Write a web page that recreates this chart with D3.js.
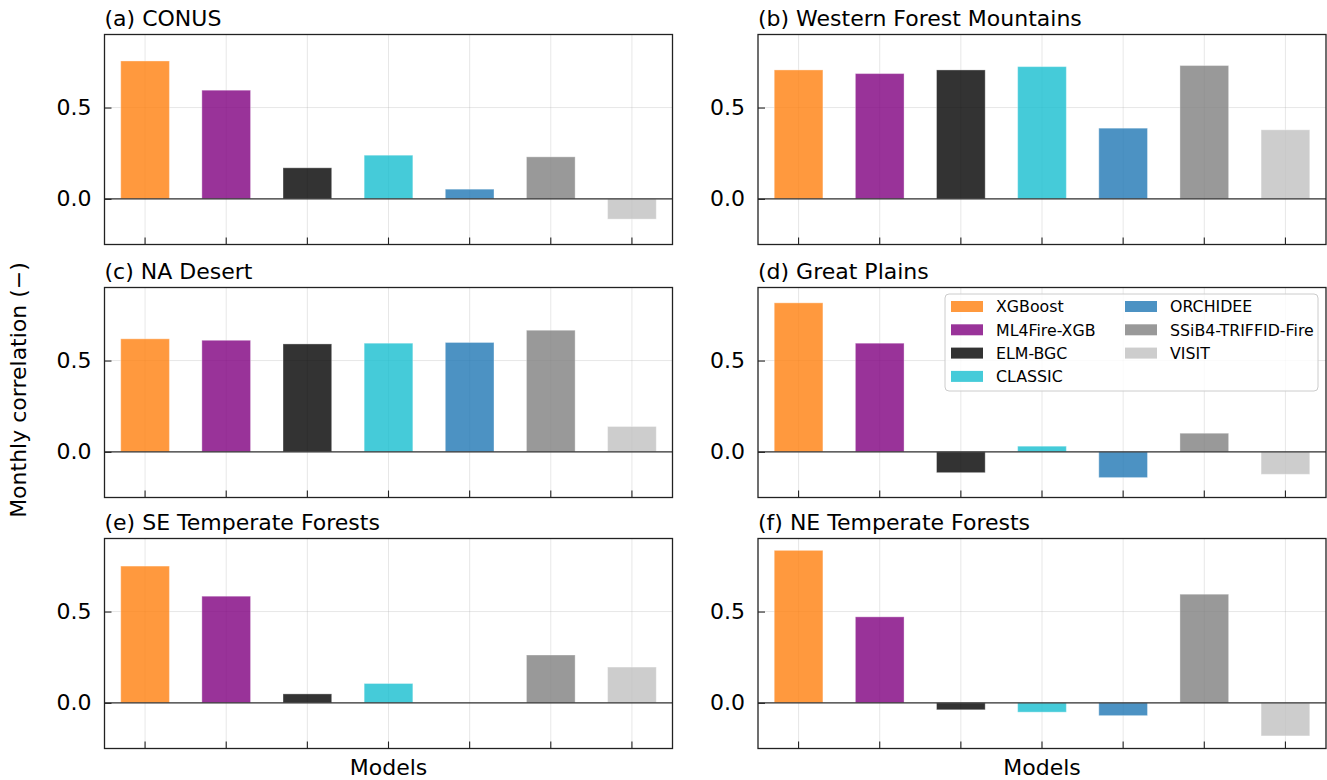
<!DOCTYPE html>
<html>
<head>
<meta charset="utf-8">
<script src="https://cdn.jsdelivr.net/npm/d3@7"></script>
<style>
    body { margin: 0; background: #fff; }
    text { font-family: "DejaVu Sans", sans-serif; fill: #000; }
</style>
</head>
<body>
<svg id="chart" width="1327" height="780"></svg>
<script>
var models = ["XGBoost", "ML4Fire-XGB", "ELM-BGC", "CLASSIC", "ORCHIDEE", "SSiB4-TRIFFID-Fire", "VISIT"];
var colors = ["#ff7f0e", "#800080", "#000000", "#17becf", "#1f77b4", "#808080", "#c0c0c0"];
var titles = ["(a) CONUS", "(b) Western Forest Mountains", "(c) NA Desert", "(d) Great Plains",
    "(e) SE Temperate Forests", "(f) NE Temperate Forests"];

// monthly correlation per region, same order as models
var conus = [0.755, 0.595, 0.17, 0.239, 0.053, 0.23, -0.111];
var western = [0.706, 0.686, 0.706, 0.724, 0.387, 0.73, 0.378];
var desert = [0.619, 0.611, 0.591, 0.595, 0.599, 0.666, 0.139];
var plains = [0.816, 0.595, -0.114, 0.031, -0.141, 0.102, -0.123];
var seForests = [0.749, 0.584, 0.049, 0.106, 0, 0.262, 0.196];
var neForests = [0.835, 0.471, -0.038, -0.051, -0.07, 0.595, -0.181];

var yTicks = [0.0, 0.5];
var yDomain = [-0.25, 0.9];

var regions = [conus, western, desert, plains, seForests, neForests];

var svg = d3.select("#chart");

var colX = [104.5, 758],
    rowY = [34.5, 287.5, 538.5],
    pw = 568,
    ph = 210,
    fs = "22px";

function drawPanel(k) {
    var x0 = colX[k % 2],
        y0 = rowY[Math.floor(k / 2)],
        vals = regions[k];

    var Xscale = d3.scaleBand().domain(models).range([x0, x0 + pw]).paddingInner(0.4).paddingOuter(0.2);
    var Yscale = d3.scaleLinear().domain(yDomain).range([y0 + ph, y0]);

    var g = svg.append("g").attr("class", "panel");

    // grid
    g.append("g").selectAll("line.vgrid")
        .data(models)
        .enter()
        .append("line")
        .attr("x1", function (d) { return Xscale(d) + Xscale.bandwidth() / 2; })
        .attr("x2", function (d) { return Xscale(d) + Xscale.bandwidth() / 2; })
        .attr("y1", y0)
        .attr("y2", y0 + ph)
        .attr("stroke", "#b0b0b0")
        .attr("stroke-opacity", 0.3)
        .attr("stroke-width", 1);

    g.append("g").selectAll("line.hgrid")
        .data(yTicks)
        .enter()
        .append("line")
        .attr("x1", x0)
        .attr("x2", x0 + pw)
        .attr("y1", function (d) { return Yscale(d); })
        .attr("y2", function (d) { return Yscale(d); })
        .attr("stroke", "#b0b0b0")
        .attr("stroke-opacity", 0.3)
        .attr("stroke-width", 1);

    // bars
    g.append("g").selectAll("rect")
        .data(vals)
        .enter()
        .append("rect")
        .attr("x", function (d, i) { return Xscale(models[i]); })
        .attr("width", Xscale.bandwidth())
        .attr("y", function (d) { return Math.min(Yscale(d), Yscale(0)); })
        .attr("height", function (d) { return Math.abs(Yscale(d) - Yscale(0)); })
        .attr("fill", function (d, i) { return colors[i]; })
        .attr("fill-opacity", 0.8)
        .attr("stroke", "#fff")
        .attr("stroke-opacity", 0.35)
        .attr("stroke-width", 1);

    // zero line
    g.append("line")
        .attr("x1", x0)
        .attr("x2", x0 + pw)
        .attr("y1", Yscale(0))
        .attr("y2", Yscale(0))
        .attr("stroke", "#333")
        .attr("stroke-width", 1.1);

    // axes, ticks pointing in
    var yAxis = d3.axisLeft(Yscale).tickValues(yTicks).tickFormat(d3.format(".1f")).tickSizeInner(-7).tickSizeOuter(0).tickPadding(13);
    var ya = g.append("g").attr("transform", "translate(" + x0 + ",0)").call(yAxis);
    ya.select(".domain").remove();
    ya.selectAll("line").attr("stroke", "#222").attr("stroke-width", 1.1);
    ya.selectAll("text").style("font-size", fs).style("font-family", "DejaVu Sans");

    var xAxis = d3.axisBottom(Xscale).tickSizeInner(-7).tickSizeOuter(0).tickFormat("");
    var xa = g.append("g").attr("transform", "translate(0," + (y0 + ph) + ")").call(xAxis);
    xa.select(".domain").remove();
    xa.selectAll("line").attr("stroke", "#222").attr("stroke-width", 1.1);

    // frame
    g.append("rect")
        .attr("x", x0)
        .attr("y", y0)
        .attr("width", pw)
        .attr("height", ph)
        .attr("fill", "none")
        .attr("stroke", "#222")
        .attr("stroke-width", 1.3);

    g.append("text")
        .attr("x", x0)
        .attr("y", y0 - 8.5)
        .style("font-size", fs)
        .text(titles[k]);

    if (k == 3) {
        drawLegend();
    }
}

function drawLegend() {
    var lx = 945, ly = 294;
    var lg = svg.append("g").attr("class", "legend");

    lg.append("rect")
        .attr("x", lx)
        .attr("y", ly)
        .attr("width", 373)
        .attr("height", 97)
        .attr("rx", 4)
        .attr("fill", "#fff")
        .attr("fill-opacity", 0.8)
        .attr("stroke", "#cccccc")
        .attr("stroke-width", 1);

    var item = lg.selectAll("g.item")
        .data(models)
        .enter()
        .append("g")
        .attr("class", "item")
        .attr("transform", function (d, i) {
            var col = i < 4 ? 0 : 1,
                row = i < 4 ? i : i - 4;
            return "translate(" + (lx + 6 + col * 174) + "," + (ly + 12.5 + row * 23.3) + ")";
        });

    item.append("rect")
        .attr("x", 0)
        .attr("y", -5.5)
        .attr("width", 32)
        .attr("height", 11)
        .attr("fill", function (d, i) { return colors[i]; })
        .attr("fill-opacity", 0.8);

    item.append("text")
        .attr("x", 45)
        .attr("y", 5.7)
        .style("font-size", "15.8px")
        .text(function (d) { return d; });
}

for (var k = 0; k < regions.length; k++) {
    drawPanel(k);
}

svg.append("text")
    .attr("transform", "translate(26,390) rotate(-90)")
    .attr("text-anchor", "middle")
    .style("font-size", fs)
    .text("Monthly correlation (\u2212)");

svg.selectAll("text.xlabel")
    .data(colX)
    .enter()
    .append("text")
    .attr("class", "xlabel")
    .attr("x", function (d) { return d + pw / 2; })
    .attr("y", 775)
    .attr("text-anchor", "middle")
    .style("font-size", fs)
    .text("Models");
</script>
</body>
</html>
